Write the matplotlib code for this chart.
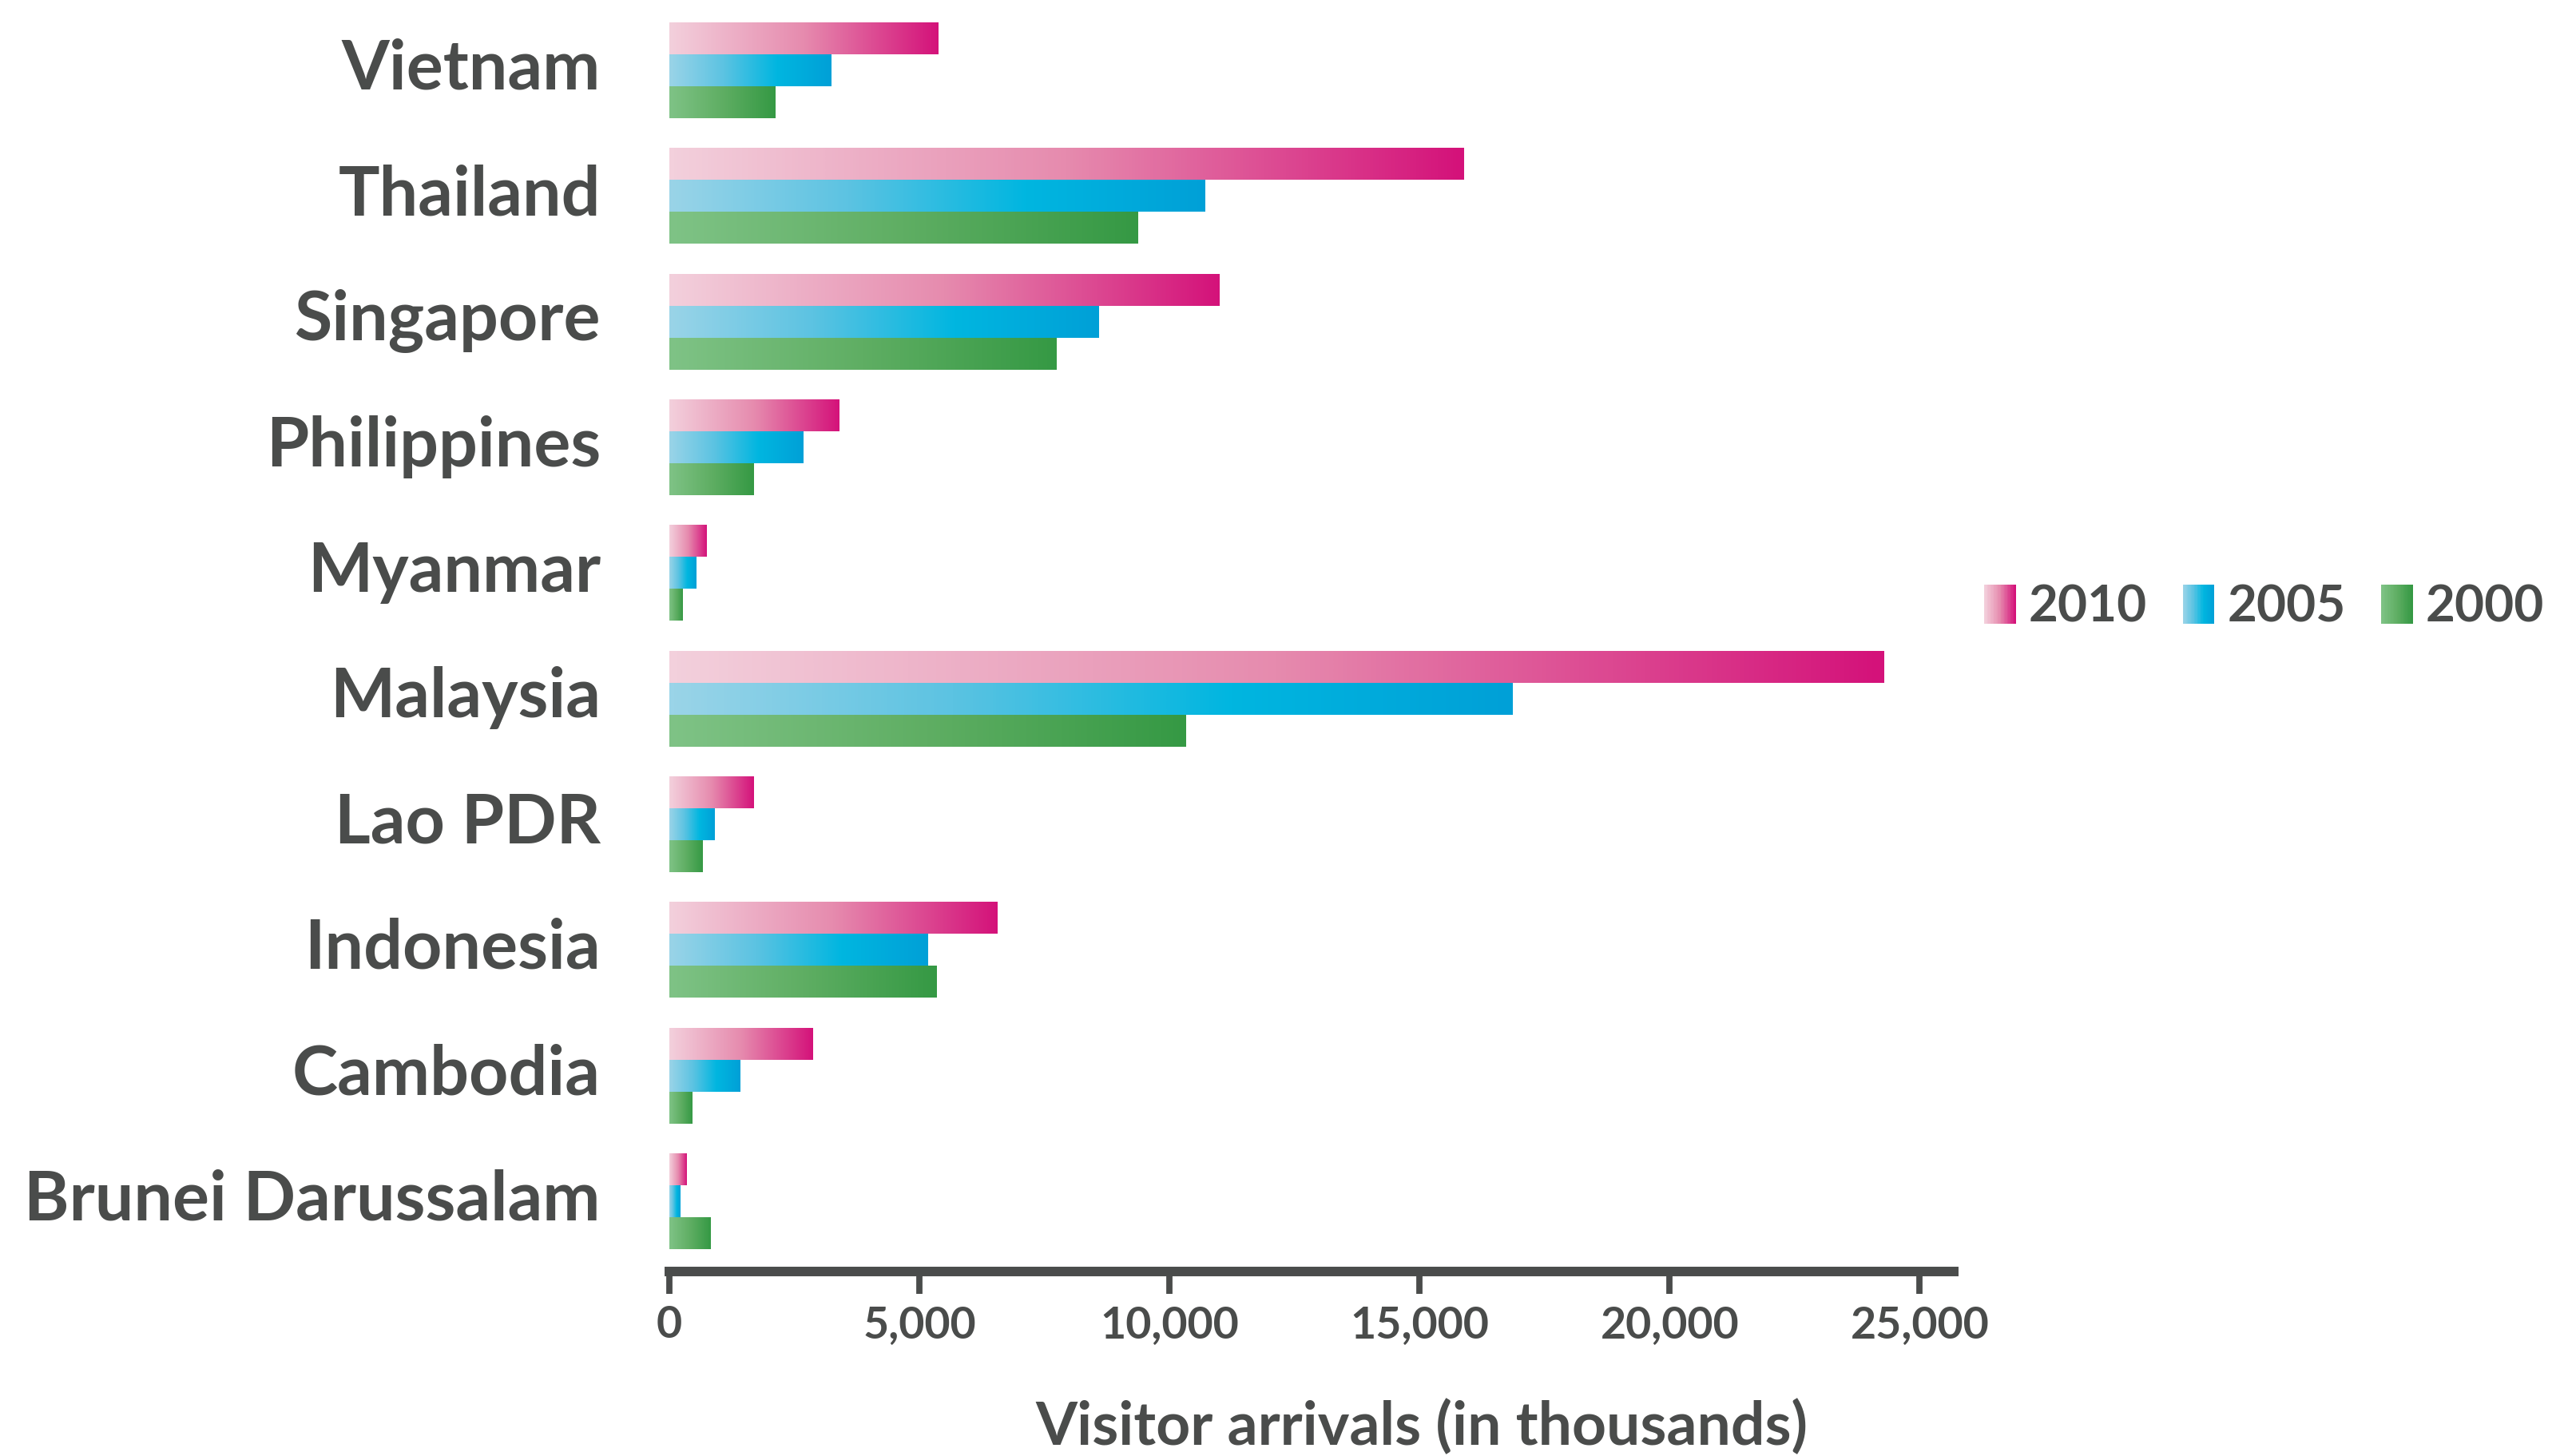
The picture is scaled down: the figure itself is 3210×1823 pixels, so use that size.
import matplotlib
matplotlib.use("Agg")
import matplotlib.pyplot as plt
import matplotlib.transforms as mtransforms
import numpy as np
from matplotlib.colors import LinearSegmentedColormap
from matplotlib.legend_handler import HandlerBase
from matplotlib.patches import Rectangle

# data (thousands of visitor arrivals), bottom to top
countries = ["Brunei Darussalam", "Cambodia", "Indonesia", "Lao PDR", "Malaysia",
             "Myanmar", "Philippines", "Singapore", "Thailand", "Vietnam"]
arr_2010 = [350, 2860, 6560, 1690, 24280, 750, 3390, 11000, 15880, 5380]
arr_2005 = [210, 1420, 5160, 910, 16850, 530, 2670, 8590, 10710, 3230]
arr_2000 = [815, 450, 5350, 670, 10320, 270, 1690, 7730, 9370, 2110]
years = ["2010", "2005", "2000"]
xticks = [0, 5000, 10000, 15000, 20000, 25000]

TXT = "#4a4c4b"
FAM = ["Lato", "DejaVu Sans"]
cmaps = {
    "2010": LinearSegmentedColormap.from_list("pink", ["#f3d0dc", "#e68bae", "#d4127a"]),
    "2005": LinearSegmentedColormap.from_list("blue", ["#9ad4e8", "#5cc3e2", "#00b6e0", "#00a0d7"]),
    "2000": LinearSegmentedColormap.from_list("green", ["#7fc386", "#5fae63", "#359944"]),
}

fig = plt.figure(figsize=(16.05, 9.115), dpi=200)
ax = fig.add_axes([838 / 3210, 1 - 1592 / 1823, (2446 - 838) / 3210, 1592 / 1823])

y = np.arange(len(countries))
h = 0.254
grad = np.linspace(0, 1, 256).reshape(1, -1)

for vals, yr, off in [(arr_2010, "2010", h), (arr_2005, "2005", 0), (arr_2000, "2000", -h)]:
    bars = ax.barh(y + off, vals, height=h, color="none", edgecolor="none")
    for r in bars:
        x0, y0, w, hh = r.get_x(), r.get_y(), r.get_width(), r.get_height()
        ax.imshow(grad, cmap=cmaps[yr], extent=[x0, x0 + w, y0, y0 + hh],
                  aspect="auto", interpolation="bicubic", zorder=2)

ax.set_xlim(0, 25680)
ax.set_ylim(-0.56, 9.56)

for s in ["top", "right", "left"]:
    ax.spines[s].set_visible(False)
ax.spines["bottom"].set_linewidth(4.3)
ax.spines["bottom"].set_color(TXT)

ax.set_xticks(xticks)
ax.set_xticklabels([f"{t:,}" for t in xticks], family=FAM, weight="bold",
                   fontsize=20, color=TXT)
ax.tick_params(axis="x", length=10, width=2.8, color=TXT, pad=5)
ax.set_yticks(y)
ax.set_yticklabels(countries, family=FAM, weight="bold", fontsize=31, color=TXT)
ax.tick_params(axis="y", length=0, pad=31)
# nudge the country names up a little
up = mtransforms.ScaledTranslation(0, 3 / 72, fig.dpi_scale_trans)
for lab in ax.get_yticklabels():
    lab.set_transform(lab.get_transform() + up)

ax.set_xlabel("Visitor arrivals (in thousands)", family=FAM, weight="bold",
              fontsize=27, color=TXT, va="center")
ax.xaxis.set_label_coords(0.586, -0.1225)


class HandlerGradient(HandlerBase):
    def create_artists(self, legend, orig_handle, xdescent, ydescent, width, height, fontsize, trans):
        cm = cmaps[orig_handle.get_label()]
        n = 30
        arts = []
        for i in range(n):
            arts.append(Rectangle((-xdescent + width * i / n, -ydescent - 0.05 * height),
                                  width / n + 0.01, height * 1.1,
                                  facecolor=cm(i / (n - 1)), edgecolor="none", transform=trans))
        return arts


handles = [Rectangle((0, 0), 1, 1, label=yr) for yr in years]
fig.legend(handles=handles, labels=years, handler_map={Rectangle: HandlerGradient()},
           loc="center left", bbox_to_anchor=(2484 / 3210, 1 - 760 / 1823), ncol=3,
           frameon=False, handlelength=0.62, handletextpad=0.25, columnspacing=0.7,
           borderpad=0, borderaxespad=0,
           prop={"family": FAM, "weight": "bold", "size": 23}, labelcolor=TXT)

fig.savefig("out.png", dpi=200, facecolor="white")
